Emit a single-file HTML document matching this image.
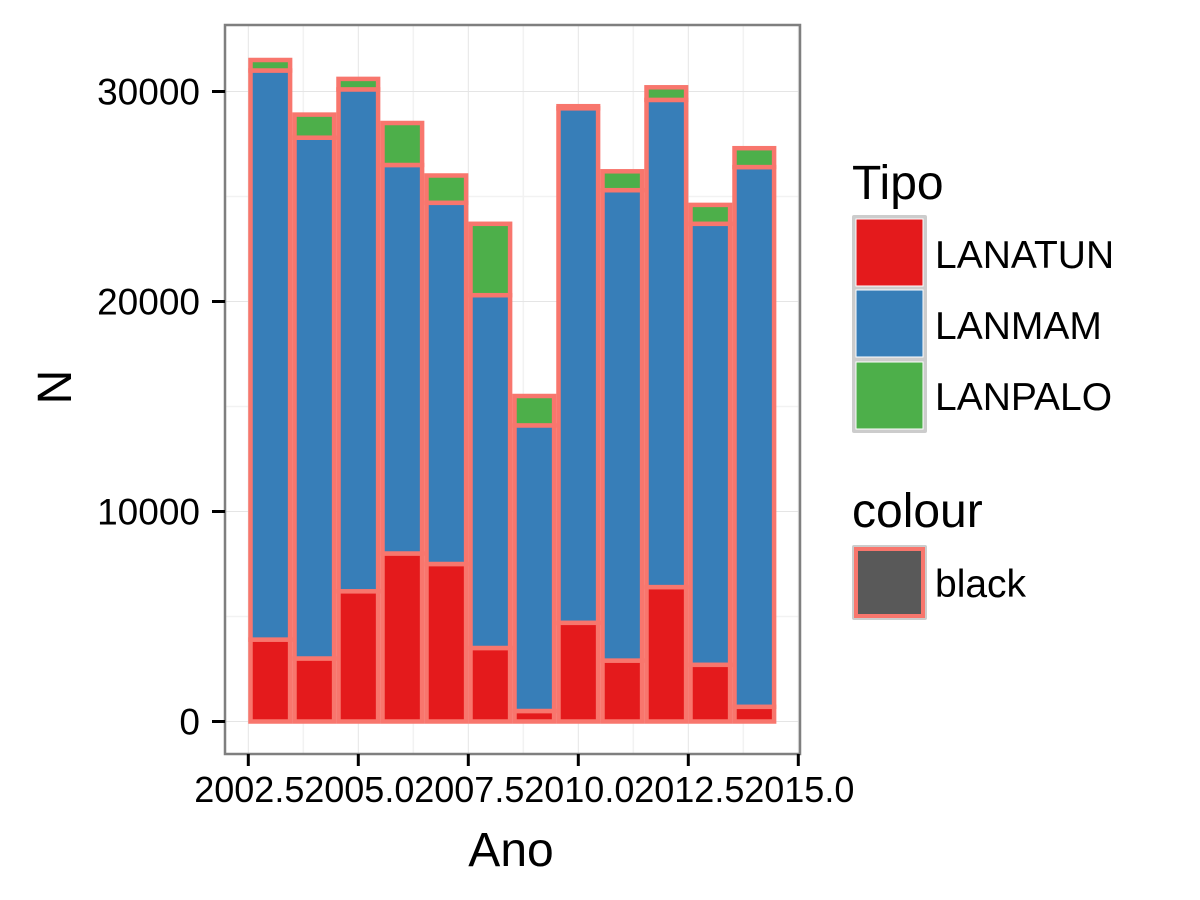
<!DOCTYPE html>
<html><head><meta charset="utf-8"><style>
html,body{margin:0;padding:0;background:#fff;}
svg{display:block;font-family:"Liberation Sans",Arial,sans-serif;}
</style></head><body>
<svg id="chart" width="1200" height="900" viewBox="0 0 1200 900">
<rect x="0" y="0" width="1200" height="900" fill="#fff"/>
<g id="grid"></g>
<g id="bars"></g>
<rect x="225" y="25" width="575" height="729" fill="none" stroke="#7f7f7f" stroke-width="2.5"/>
<g id="axes"></g>
<text x="511" y="866" font-size="48" text-anchor="middle">Ano</text>
<text transform="translate(71,387) rotate(-90)" font-size="48" text-anchor="middle">N</text>
<g>
<text x="852" y="199" font-size="48">Tipo</text>
<rect x="852" y="215" width="75" height="218" fill="#cccccc" rx="2"/>
<rect x="856" y="219" width="67" height="67" fill="#E41A1C" stroke="#fff" stroke-width="1"/>
<rect x="856" y="290" width="67" height="67" fill="#377EB8" stroke="#fff" stroke-width="1"/>
<rect x="856" y="362" width="67" height="67" fill="#4DAF4A" stroke="#fff" stroke-width="1"/>
<text x="935" y="268" font-size="39">LANATUN</text>
<text x="935" y="339" font-size="39">LANMAM</text>
<text x="935" y="410" font-size="39">LANPALO</text>
<text x="852" y="527" font-size="48">colour</text>
<rect x="852" y="545" width="75" height="75" fill="#cccccc" rx="2"/>
<rect x="856" y="549" width="67" height="67" fill="#595959" stroke="#F8766D" stroke-width="4"/>
<text x="935" y="597" font-size="39">black</text>
</g>
</svg>
<script>
const years=[2003,2004,2005,2006,2007,2008,2009,2010,2011,2012,2013,2014];
const lanatun=[3900,3000,6200,8000,7500,3500,500,4700,2900,6400,2700,700];
const lanmam=[27100,24800,23900,18500,17200,16800,13600,24500,22400,23200,21000,25700];
const lanpalo=[500,1100,500,2000,1300,3400,1400,100,900,600,900,900];
const xTicks=[2002.5,2005.0,2007.5,2010.0,2012.5,2015.0];
const xTickLabels=["2002.5","2005.0","2007.5","2010.0","2012.5","2015.0"];
const yTicks=[0,10000,20000,30000];
const yTickLabels=["0","10000","20000","30000"];

const NS="http://www.w3.org/2000/svg";
function X(v){return 248.3+(v-2002.5)*44;}
function Y(v){return 721.5-v*0.021;}
function mk(parent,tag,attrs){const e=document.createElementNS(NS,tag);for(const k in attrs)e.setAttribute(k,attrs[k]);parent.appendChild(e);return e;}
const grid=document.getElementById('grid'),bars=document.getElementById('bars'),axes=document.getElementById('axes');
for(let i=0;i<xTicks.length-1;i++){const m=(xTicks[i]+xTicks[i+1])/2;const l=mk(grid,'line',{x1:X(m),x2:X(m),y1:25,y2:754,stroke:'#f2f2f2','stroke-width':1.5});

}
for(let i=0;i<yTicks.length-1;i++){const m=(yTicks[i]+yTicks[i+1])/2;const l=mk(grid,'line',{x1:225,x2:800,y1:Y(m),y2:Y(m),stroke:'#f2f2f2','stroke-width':1.5});

}
xTicks.forEach(v=>{const l=mk(grid,'line',{x1:X(v),x2:X(v),y1:25,y2:754,stroke:'#e5e5e5','stroke-width':1});

});
yTicks.forEach(v=>{const l=mk(grid,'line',{x1:225,x2:800,y1:Y(v),y2:Y(v),stroke:'#e5e5e5','stroke-width':1});

});
const series=[[lanatun,'#E41A1C','lanatun'],[lanmam,'#377EB8','lanmam'],[lanpalo,'#4DAF4A','lanpalo']];
years.forEach((yr,i)=>{let base=0;const w=39.6;const x0=X(yr)-w/2;
series.forEach(s=>{const v=s[0][i];const r=mk(bars,'rect',{x:x0,y:Y(base+v),width:w,height:Y(base)-Y(base+v),fill:s[1],stroke:'#F8766D','stroke-width':4.5});


base+=v;});});
xTicks.forEach((v,i)=>{const l=mk(axes,'line',{x1:X(v),x2:X(v),y1:754,y2:766,stroke:'#000','stroke-width':3});


const t=mk(axes,'text',{x:X(v)+1,y:802,'font-size':36,'text-anchor':'middle'});t.textContent=xTickLabels[i];

});
yTicks.forEach((v,i)=>{const l=mk(axes,'line',{x1:212,x2:225,y1:Y(v),y2:Y(v),stroke:'#000','stroke-width':3});


const t=mk(axes,'text',{x:200,y:Y(v)+13,'font-size':37,'text-anchor':'end'});t.textContent=yTickLabels[i];

});
</script>
</body></html>
